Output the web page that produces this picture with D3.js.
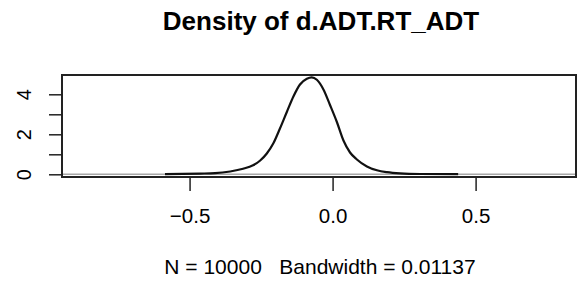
<!DOCTYPE html>
<html>
<head>
<meta charset="utf-8">
<script src="https://cdn.jsdelivr.net/npm/d3@7"></script>
<style>
  body { margin: 0; background: #fff; }
  text { font-family: "Liberation Sans", Arial, sans-serif; fill: #000; white-space: pre; }
</style>
</head>
<body>
<div id="chart"></div>
<script>

// density estimate
var densX = [-0.586, -0.463, -0.411, -0.358, -0.313, -0.278, -0.253, -0.230, -0.207, -0.184,
             -0.160, -0.137, -0.114, -0.090, -0.073, -0.055, -0.032, -0.009, 0.015, 0.038,
             0.061, 0.085, 0.120, 0.155, 0.190, 0.236, 0.306, 0.439];
var densY = [0.010, 0.035, 0.055, 0.140, 0.275, 0.450, 0.690, 1.040, 1.550, 2.290,
             3.115, 3.890, 4.490, 4.775, 4.850, 4.725, 4.240, 3.465, 2.615, 1.690,
             1.090, 0.740, 0.390, 0.200, 0.105, 0.045, 0.015, 0.005];

var xTicks = [-0.5, 0.0, 0.5];
var yTicks = [0, 1, 2, 3, 4];
var yLabels = [0, 2, 4];  // R drops the odd labels

var xlim = [-0.946, 0.851];
var ylim = [-0.135, 4.965];

var titleText = 'Density of d.ADT.RT_ADT';
var subText = 'N = 10000   Bandwidth = 0.01137';

var width = 578;
var height = 282;
var plot = {left: 62, right: 576, top: 75, bottom: 177};

var svg = d3.select('#chart')
  .append('svg')
  .attr('width', width)
  .attr('height', height);

var xScale = d3.scaleLinear()
  .domain(xlim)
  .range([plot.left, plot.right]);

var yScale = d3.scaleLinear()
  .domain(ylim)
  .range([plot.bottom, plot.top]);

// zero line (gray, full width)
svg.append('line')
  .attr('x1', plot.left)
  .attr('x2', plot.right)
  .attr('y1', yScale(0))
  .attr('y2', yScale(0))
  .attr('stroke', '#a8a8a8')
  .attr('stroke-width', 1.6);

// the density curve
var points = densX.map((x, i) => [x, densY[i]]);

var line = d3.line()
  .x(d => xScale(d[0]))
  .y(d => yScale(d[1]))
  .curve(d3.curveMonotoneX);

svg.append('path')
  .datum(points)
  .attr('d', line)
  .attr('fill', 'none')
  .attr('stroke', '#111')
  .attr('stroke-width', 2.2);

// box around plot region
svg.append('rect')
  .attr('x', plot.left)
  .attr('y', plot.top)
  .attr('width', plot.right - plot.left)
  .attr('height', plot.bottom - plot.top)
  .attr('fill', 'none')
  .attr('stroke', '#222')
  .attr('stroke-width', 2);

// x axis, R style: line only spans the ticks
var xAxis = d3.axisBottom(xScale)
  .tickValues(xTicks)
  .tickSize(14)
  .tickFormat(d => d3.format('.1f')(d).replace('-', '\u2212'));

var gx = svg.append('g')
  .attr('transform', 'translate(0,' + plot.bottom + ')')
  .call(xAxis);

gx.select('.domain')
  .attr('d', 'M' + xScale(xTicks[0]) + ',0H' + xScale(xTicks[xTicks.length - 1]))
  .attr('stroke', '#222')
  .attr('stroke-width', 2);
gx.selectAll('.tick line').attr('stroke', '#222').attr('stroke-width', 1.5);
gx.selectAll('.tick text')
  .attr('font-size', 20.5)
  .attr('font-family', '"Liberation Sans", Arial, sans-serif')
  .attr('y', 46)
  .attr('dy', 0);

// y axis
var yAxis = d3.axisLeft(yScale)
  .tickValues(yTicks)
  .tickSize(13)
  .tickFormat(d => yLabels.indexOf(d) >= 0 ? d : '');

var gy = svg.append('g')
  .attr('transform', 'translate(' + plot.left + ',0)')
  .call(yAxis);

gy.select('.domain')
  .attr('d', 'M0,' + yScale(yTicks[0]) + 'V' + yScale(yTicks[yTicks.length - 1]))
  .attr('stroke', '#222')
  .attr('stroke-width', 2);
gy.selectAll('.tick line').attr('stroke', '#222').attr('stroke-width', 1.5);
gy.selectAll('.tick text')
  .attr('font-size', 20)
  .attr('font-family', '"Liberation Sans", Arial, sans-serif')
  .attr('text-anchor', 'middle')
  .attr('x', 0)
  .attr('dy', 0)
  .attr('transform', 'translate(-31,0) rotate(-90)');

// title and sub caption
svg.append('text')
  .attr('x', 321)
  .attr('y', 29.5)
  .attr('text-anchor', 'middle')
  .attr('font-size', 26)
  .attr('font-weight', 'bold')
  .text(titleText);

svg.append('text')
  .attr('x', 320)
  .attr('y', 274)
  .attr('text-anchor', 'middle')
  .attr('font-size', 21)
  .text(subText);

</script>
</body>
</html>
